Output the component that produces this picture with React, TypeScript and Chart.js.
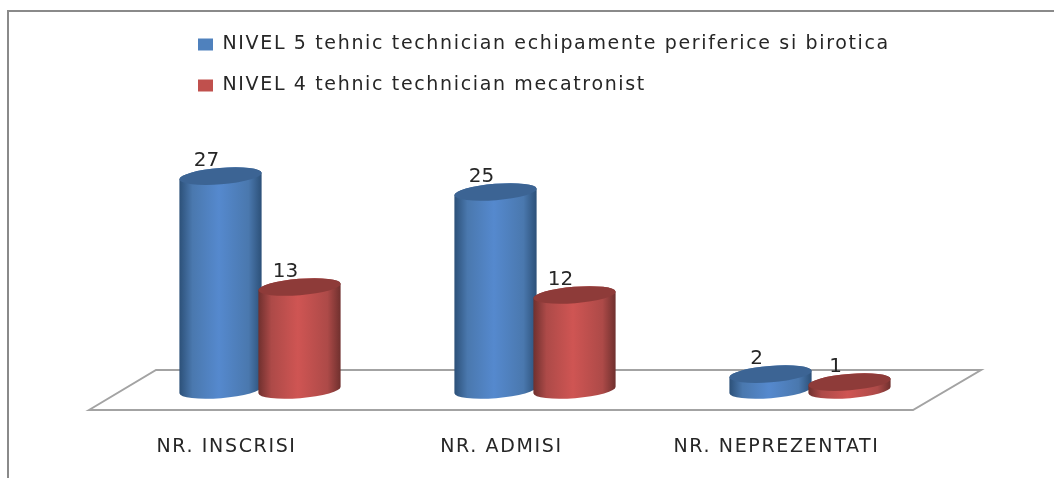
import React, { useEffect, useRef } from "react";
import { Chart, registerables } from "chart.js";

Chart.register(...registerables);

const categories = ["NR. INSCRISI", "NR. ADMISI", "NR. NEPREZENTATI"];
const seriesNames = [
  "NIVEL 5 tehnic technician echipamente periferice si birotica",
  "NIVEL 4 tehnic technician mecatronist",
];
const nivel5 = [27, 25, 2];
const nivel4 = [13, 12, 1];

const legendColors = ["#4f81bd", "#c0504d"];
const shades = [
  { edge: "#2c5078", side: "#4a78ae", mid: "#5589ce", top: "#3c6494" },
  { edge: "#6f302e", side: "#ad4a48", mid: "#cf5553", top: "#8e3b39" },
];
const FONT = "'DejaVu Sans'";
const TILT = -0.08;
const RY = 8.2;

const cylinderPlugin = {
  id: "cylinders",
  beforeDraw(chart: any) {
    const { ctx, width, height } = chart;
    ctx.letterSpacing = "1.65px";
    ctx.save();
    ctx.strokeStyle = "#8a8a8a";
    ctx.lineWidth = 2;
    ctx.beginPath();
    ctx.moveTo(8, height);
    ctx.lineTo(8, 11);
    ctx.lineTo(width, 11);
    ctx.stroke();
    ctx.restore();
  },
  afterLayout(chart: any) {
    const lg = chart.legend;
    lg.left = 176;
    lg.top = 13;
    lg.right = 1000;
    lg.bottom = 130;
  },
  beforeDatasetsDraw(chart: any) {
    const { ctx, chartArea } = chart;
    const base = chart.scales.y.getPixelForValue(0);
    ctx.save();
    ctx.strokeStyle = "#a3a3a3";
    ctx.lineWidth = 2;
    ctx.lineJoin = "miter";
    ctx.beginPath();
    ctx.moveTo(chartArea.left - 33.5, base + 20);
    ctx.lineTo(chartArea.left + 33.5, base - 20);
    ctx.lineTo(chartArea.right + 33.5, base - 20);
    ctx.lineTo(chartArea.right - 34.5, base + 20);
    ctx.closePath();
    ctx.stroke();

    chart.data.datasets.forEach((_: any, di: number) => {
      const meta = chart.getDatasetMeta(di);
      const s = shades[di];
      meta.data.forEach((bar: any) => {
        const rx = bar.width / 2;
        const cx = bar.x;
        const grad = ctx.createLinearGradient(cx - rx, 0, cx + rx, 0);
        grad.addColorStop(0, s.edge);
        grad.addColorStop(0.16, s.side);
        grad.addColorStop(0.48, s.mid);
        grad.addColorStop(0.84, s.side);
        grad.addColorStop(1, s.edge);
        ctx.beginPath();
        ctx.ellipse(cx, bar.y, rx, RY, TILT, Math.PI, 2 * Math.PI);
        ctx.ellipse(cx, base, rx, RY, TILT, 0, Math.PI);
        ctx.closePath();
        ctx.fillStyle = grad;
        ctx.fill();
        ctx.beginPath();
        ctx.ellipse(cx, bar.y, rx, RY, TILT, 0, 2 * Math.PI);
        ctx.fillStyle = s.top;
        ctx.fill();
      });
    });

    ctx.fillStyle = "#262626";
    ctx.font = `20px ${FONT}`;
    ctx.letterSpacing = "0px";
    ctx.textAlign = "center";
    ctx.textBaseline = "middle";
    chart.data.datasets.forEach((ds: any, di: number) => {
      chart.getDatasetMeta(di).data.forEach((bar: any, i: number) => {
        ctx.fillText(String(ds.data[i]), bar.x - 14, bar.y - 15);
      });
    });
    ctx.restore();
    return false;
  },
};

export default function App() {
  const ref = useRef<HTMLCanvasElement>(null);
  useEffect(() => {
    const chart = new Chart(ref.current as HTMLCanvasElement, {
      type: "bar",
      data: {
        labels: categories,
        datasets: [
          { label: seriesNames[0], data: nivel5, backgroundColor: legendColors[0] },
          { label: seriesNames[1], data: nivel4, backgroundColor: legendColors[1] },
        ],
      },
      options: {
        animation: false,
        responsive: false,
        layout: { padding: { left: 122.5, right: 106.5, top: 152.4, bottom: 0 } },
        datasets: { bar: { categoryPercentage: 0.5745, barPercentage: 1.044 } },
        scales: {
          x: {
            grid: { display: false },
            border: { display: false },
            afterFit: (s: any) => {
              s.height = 88;
            },
            ticks: {
              padding: 38,
              labelOffset: -33.5,
              maxRotation: 0,
              autoSkip: false,
              color: "#262626",
              font: { family: FONT, size: 19 },
            },
          },
          y: { display: false, min: 0, max: 30 },
        },
        plugins: {
          tooltip: { enabled: false },
          title: { display: false },
          legend: {
            position: "chartArea",
            align: "start",
            labels: {
              boxWidth: 15,
              boxHeight: 12,
              padding: 22,
              color: "#262626",
              font: { family: FONT, size: 19 },
            },
          },
        },
      } as any,
      plugins: [cylinderPlugin as any],
    });
    return () => chart.destroy();
  }, []);
  return (
    <canvas
      ref={ref}
      width={1054}
      height={478}
      style={{ position: "fixed", left: 0, top: 0, display: "block", background: "#fff", filter: "blur(0.5px)" }}
    />
  );
}
